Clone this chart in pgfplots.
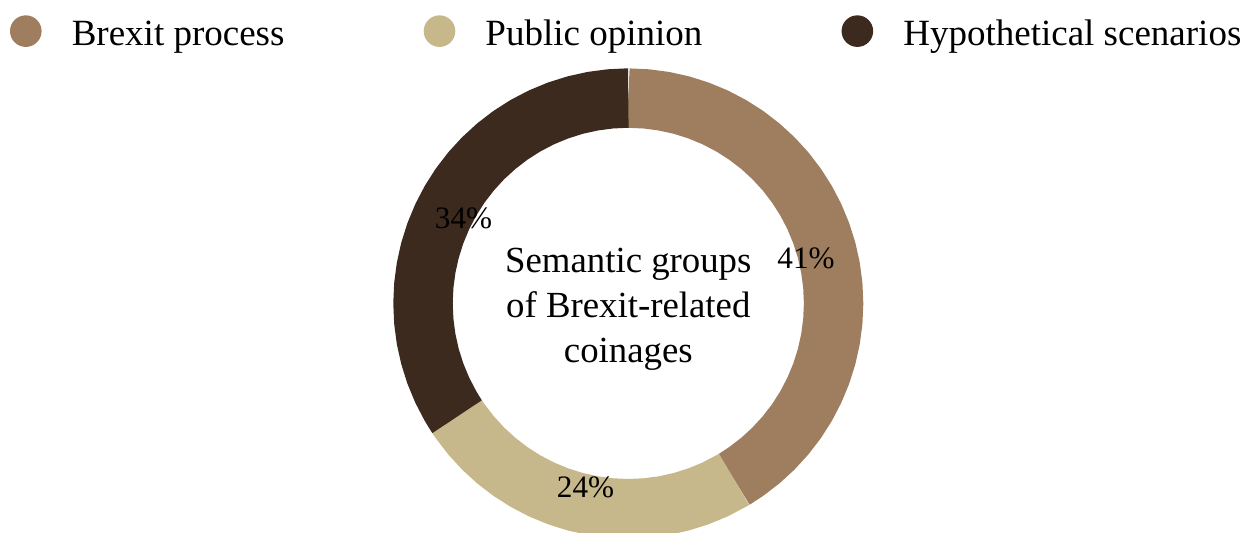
\documentclass[border=0pt]{standalone}
\usepackage{pgfplots}
\pgfplotsset{compat=1.18}
\usepackage{fontspec}
\setmainfont{Liberation Serif}
\definecolor{brex}{HTML}{9E7E5F}
\definecolor{publ}{HTML}{C6B88A}
\definecolor{hypo}{HTML}{3C2A1F}
\begin{document}
\begin{tikzpicture}
\begin{axis}[
  name=ax,
  scale only axis,
  width=624bp, height=266.5bp,
  xmin=-628.3, xmax=619.7,
  ymin=-229.6, ymax=303.4,
  hide axis,
  data cs=polar,
  legend columns=3,
  legend style={at={(axis cs:-618.3,271.4)}, anchor=west, draw=none, fill=none,
    inner sep=0pt, outer sep=0pt, font=\fontsize{18.5bp}{22bp}\selectfont,
    nodes={inner sep=0pt},
    /tikz/every odd column/.append style={column sep=15.1bp},
    /tikz/every even column/.append style={column sep=69.6bp}},
]
% Brexit process 41.4 %  (90 -> -59 deg)
\addplot[draw=brex, line width=29.7bp, line join=round,
  legend image code/.code={\path[fill=brex, draw=none, line width=0pt] (0bp,1.6bp) circle (7.9bp);}]
  coordinates {(90,205.3) (85,205.3) (80,205.3) (75,205.3) (70,205.3) (65,205.3)
  (60,205.3) (55,205.3) (50,205.3) (45,205.3) (40,205.3) (35,205.3) (30,205.3)
  (25,205.3) (20,205.3) (15,205.3) (10,205.3) (5,205.3) (0,205.3) (-5,205.3)
  (-10,205.3) (-15,205.3) (-20,205.3) (-25,205.3) (-30,205.3) (-35,205.3)
  (-40,205.3) (-45,205.3) (-50,205.3) (-55,205.3) (-58.5,205.3) (-59,205.3)};
\addlegendentry{Brexit process}
% Public opinion 24.3 %  (-59 -> -146.5 deg)
\addplot[draw=publ, line width=29.7bp, line join=round,
  legend image code/.code={\path[fill=publ, draw=none, line width=0pt] (0bp,1.6bp) circle (7.9bp);}]
  coordinates {(-59,205.3) (-59.5,205.3) (-65,205.3) (-70,205.3) (-75,205.3)
  (-80,205.3) (-85,205.3) (-90,205.3) (-95,205.3) (-100,205.3) (-105,205.3)
  (-110,205.3) (-115,205.3) (-120,205.3) (-125,205.3) (-130,205.3) (-135,205.3)
  (-140,205.3) (-145,205.3) (-146,205.3) (-146.5,205.3)};
\addlegendentry{Public opinion}
% Hypothetical scenarios 34.3 %  (-146.5 -> -270 deg)
\addplot[draw=hypo, line width=29.7bp, line join=round,
  legend image code/.code={\path[fill=hypo, draw=none, line width=0pt] (0bp,1.6bp) circle (7.9bp);}]
  coordinates {(-146.5,205.3) (-147,205.3) (-150,205.3) (-155,205.3) (-160,205.3)
  (-165,205.3) (-170,205.3) (-175,205.3) (-180,205.3) (-185,205.3) (-190,205.3)
  (-195,205.3) (-200,205.3) (-205,205.3) (-210,205.3) (-215,205.3) (-220,205.3)
  (-225,205.3) (-230,205.3) (-235,205.3) (-240,205.3) (-245,205.3) (-250,205.3)
  (-255,205.3) (-260,205.3) (-265,205.3) (-269.5,205.3) (-270,205.3)};
\addlegendentry{Hypothetical scenarios}
\end{axis}
\begin{axis}[
  scale only axis,
  width=624bp, height=266.5bp,
  xmin=-628.3, xmax=619.7,
  ymin=-229.6, ymax=303.4,
  hide axis, clip=false,
]
\node[font=\fontsize{15.6bp}{19bp}\selectfont, inner sep=0pt] at (axis cs:177.7,45.4) {41\%};
\node[font=\fontsize{15.6bp}{19bp}\selectfont, inner sep=0pt] at (axis cs:-42.8,-184.1) {24\%};
\node[font=\fontsize{15.6bp}{19bp}\selectfont, inner sep=0pt] at (axis cs:-164.8,85.4) {34\%};
\node[font=\fontsize{18.4bp}{22.4bp}\selectfont, align=center, inner sep=0pt]
  at (axis cs:0,-6) {Semantic groups\\of Brexit-related\\coinages};
\end{axis}
\pgfresetboundingbox
\path (ax.south west) rectangle (ax.north east);
\end{tikzpicture}
\end{document}
